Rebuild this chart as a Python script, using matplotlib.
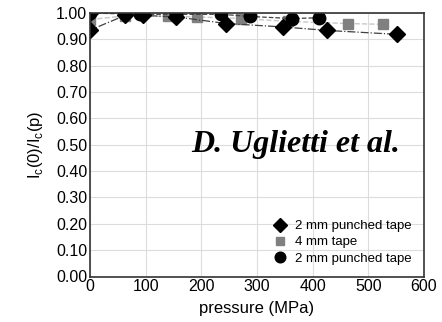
import matplotlib
matplotlib.use("Agg")
import matplotlib.pyplot as plt

# Series 1: 2 mm punched tape (diamonds)
p_diam = [0, 0, 63, 96, 155, 245, 347, 425, 551]
v_diam = [1.00, 0.935, 0.991, 0.991, 0.985, 0.960, 0.947, 0.934, 0.919]
# Series 2: 4 mm tape (grey squares)
p_sq = [0, 63, 141, 193, 272, 356, 464, 527]
v_sq = [0.975, 0.989, 0.987, 0.985, 0.979, 0.968, 0.960, 0.957]
# Series 3: 2 mm punched tape (circles)
p_circ = [0, 90, 155, 236, 287, 362, 412]
v_circ = [1.00, 0.995, 0.995, 0.995, 0.987, 0.979, 0.982]

labels = ["2 mm punched tape", "4 mm tape", "2 mm punched tape"]
xticks = [0, 100, 200, 300, 400, 500, 600]
yticks = [0.0, 0.1, 0.2, 0.3, 0.4, 0.5, 0.6, 0.7, 0.8, 0.9, 1.0]

plt.rcParams['font.family'] = ['Liberation Sans', 'DejaVu Sans']

fig = plt.figure(figsize=(4.42, 3.22), dpi=100)
ax = fig.add_axes([90/442, 45.5/322, 334/442, 263.5/322])

ax.plot(p_sq, v_sq, color='#c8c8c8', ls='--', lw=1.0, zorder=2)
ax.plot(p_sq, v_sq, ls='none', marker='s', ms=6.8, color='#808080', zorder=3, label=labels[1])
ax.plot(p_circ, v_circ, color='#404040', ls='--', lw=0.9, zorder=4)
ax.plot(p_circ, v_circ, ls='none', marker='o', ms=9, color='black', zorder=5, label=labels[2])
ax.plot(p_diam, v_diam, color='#404040', ls='-.', lw=0.9, zorder=6)
ax.plot(p_diam, v_diam, ls='none', marker='D', ms=8, color='black', zorder=7, label=labels[0])

ax.set_xlim(0, 600)
ax.set_ylim(0, 1.0)
ax.set_xticks(xticks)
ax.set_yticks(yticks)
ax.set_yticklabels([f"{v:.2f}" for v in yticks])
ax.grid(True, color='#dcdcdc', lw=0.8)
ax.set_axisbelow(True)
ax.tick_params(length=0, labelsize=11.5, pad=2)
for s in ax.spines.values():
    s.set_color('#333333')
    s.set_linewidth(1.2)
    s.set_zorder(10)

ax.set_xlabel("pressure (MPa)", fontsize=12, labelpad=5)
ax.set_ylabel(r"I$_\mathregular{c}$(0)/I$_\mathregular{c}$(p)", fontsize=12, labelpad=8)

ax.text(0.928, 0.473, "D. Uglietti et al.", transform=ax.transAxes, ha='right', va='baseline',
        family='Liberation Serif', fontweight='bold', fontstyle='italic', fontsize=23)

h, l = ax.get_legend_handles_labels()
order = [2, 0, 1]
ax.legend([h[i] for i in order], [l[i] for i in order], loc='lower right', frameon=False,
          fontsize=9.5, handlelength=1.0, handletextpad=0.7, labelspacing=0.3,
          bbox_to_anchor=(1.0, 0.0), markerscale=0.85)

fig.savefig("out.png", dpi=100)
